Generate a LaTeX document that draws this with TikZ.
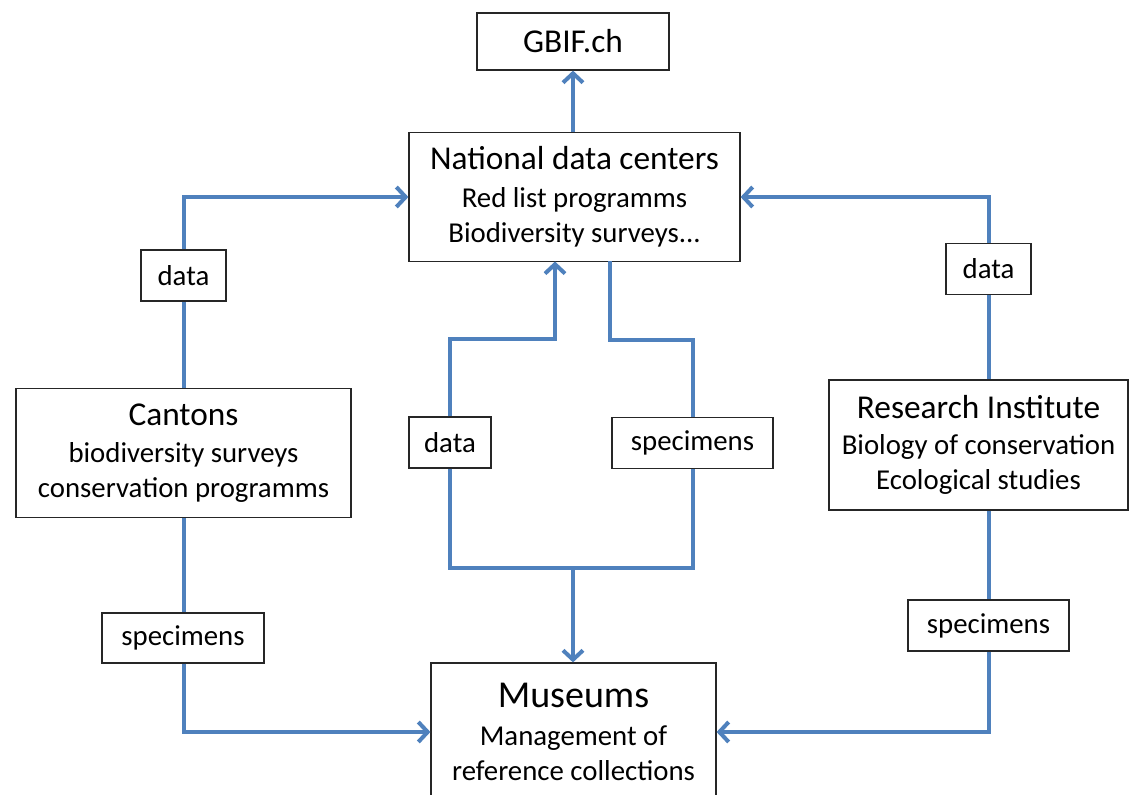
\documentclass[tikz,border=0pt]{standalone}
\usepackage{fontspec}
\setmainfont{Carlito}
\usetikzlibrary{arrows.meta}
\definecolor{linkblue}{RGB}{79,129,189}
\newcommand{\ttlfont}{\fontsize{25pt}{26.5pt}\selectfont}
\newcommand{\subfont}{\fontsize{21.6pt}{26.5pt}\selectfont}
\newcommand{\musfont}{\fontsize{28.5pt}{30pt}\selectfont}
\begin{document}
\begin{tikzpicture}[x=0.75pt,y=0.75pt,yscale=-1,xscale=1,
  box/.style={draw=black!85,line width=0.9pt,align=center,inner sep=0pt,font=\subfont},
  lbl/.style={box,minimum height=38.25pt},
  link/.style={draw=linkblue,line width=3pt},
  flow/.style={link,-{Straight Barb[length=7pt,width=15pt]}}]
\useasboundingbox (0,0) rectangle (1129,795);

% Text Node
\node (gbif) [box,minimum width=144pt,minimum height=42.75pt,font=\ttlfont] at (573,41.5) {GBIF.ch};
% Text Node
\node (ndc) [box,minimum width=248.25pt,minimum height=96.75pt] at (574.5,197) {{\ttlfont National data centers}\\[1.5pt]Red list programms\\Biodiversity surveys...};
% Text Node
\node (cantons) [box,minimum width=251.25pt,minimum height=96.75pt] at (183.5,453) {{\ttlfont Cantons}\\[1.5pt]biodiversity surveys\\conservation programms};
% Text Node
\node (research) [box,minimum width=224.25pt,minimum height=97.5pt] at (978.5,445) {{\ttlfont Research Institute}\\Biology of conservation\\Ecological studies};
% Text Node
\node (museums) [box,minimum width=213.75pt,minimum height=103.5pt] at (573.5,732) {{\musfont Museums}\\[2pt]Management of\\reference collections};

% Text Node
\node (dataL) [lbl,minimum width=63.75pt] at (183.5,275.5) {data};
\node (specL) [lbl,minimum width=121.5pt,minimum height=37.5pt] at (183,638) {specimens};
\node (dataM) [lbl,minimum width=61.5pt] at (450,442.5) {data};
\node (specM) [lbl,minimum width=120.75pt] at (692.5,443) {specimens};
\node (dataR) [lbl,minimum width=63.75pt] at (988.5,269) {data};
\node (specR) [lbl,minimum width=120.75pt] at (988.5,625.5) {specimens};

\coordinate (ndcIn) at (555,261.5);
\coordinate (ndcOut) at (610,261.5);
\coordinate (join) at (573,568);

%Straight Lines
\draw [flow] (ndc.north -| gbif.south) -- (gbif.south);
%Straight Lines
\draw [link] (cantons.north) -- (dataL.south);
\draw [flow] (dataL.north) |- (ndc.west);
\draw [link] (cantons.south) -- (specL.north -| cantons.south);
\draw [flow] (specL.south -| cantons.south) |- (museums.west);
%Straight Lines
\draw [link] (research.north -| dataR.south) -- (dataR.south);
\draw [flow] (dataR.north) |- (ndc.east);
\draw [link] (research.south -| specR.north) -- (specR.north);
\draw [flow] (specR.south) |- (museums.east);
%Straight Lines
\draw [flow] (dataM.north) -- ++(0,-77) -| (ndcIn);
\draw [link] (ndcOut) -- ++(0,78.5) -| (specM.north);
\draw [link] (dataM.south) |- (join) -| (specM.south);
\draw [flow] (join) -- (museums.north -| join);

\end{tikzpicture}
\end{document}
